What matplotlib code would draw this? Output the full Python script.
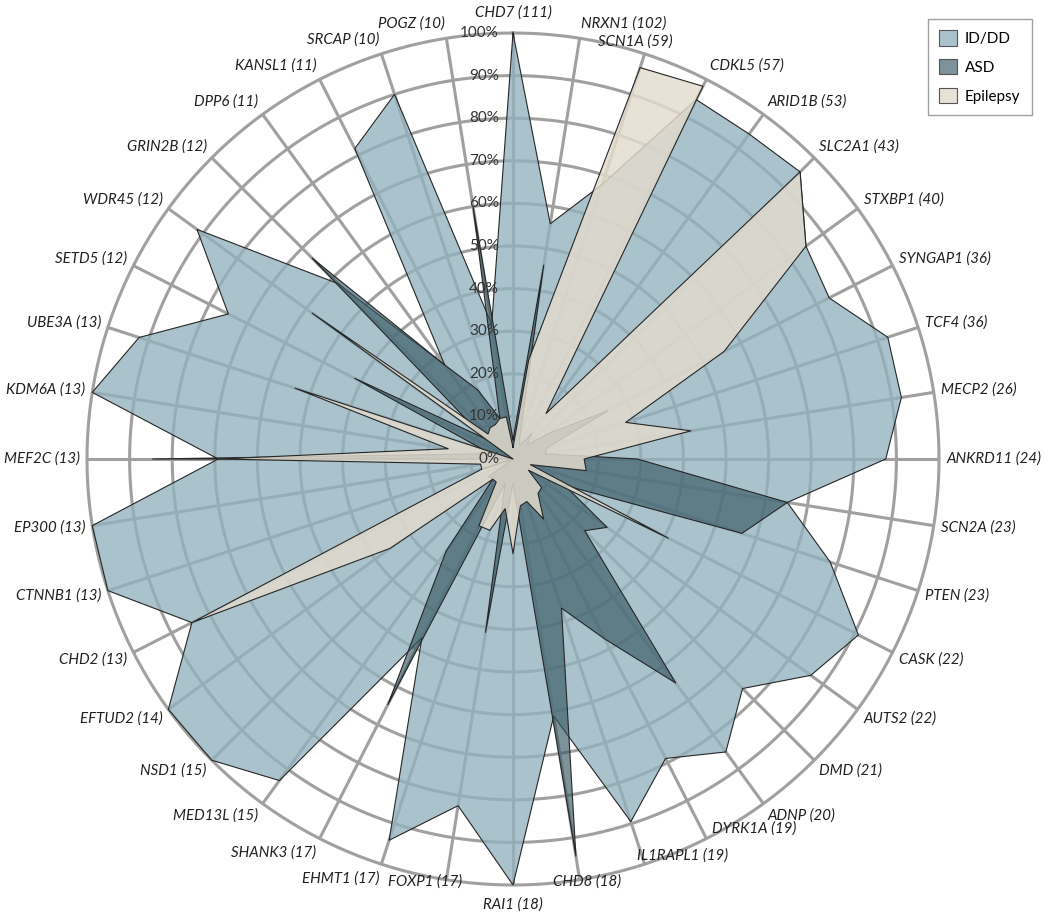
import numpy as np
import matplotlib.pyplot as plt
import matplotlib.colors as mcolors
from matplotlib.patches import Patch

# genes (clockwise from the top) and number of cases
genes = ['CHD7', 'NRXN1', 'SCN1A', 'CDKL5', 'ARID1B', 'SLC2A1', 'STXBP1', 'SYNGAP1',
         'TCF4', 'MECP2', 'ANKRD11', 'SCN2A', 'PTEN', 'CASK', 'AUTS2', 'DMD', 'ADNP',
         'DYRK1A', 'IL1RAPL1', 'CHD8', 'RAI1', 'FOXP1', 'EHMT1', 'SHANK3', 'MED13L',
         'NSD1', 'EFTUD2', 'CHD2', 'CTNNB1', 'EP300', 'MEF2C', 'KDM6A', 'UBE3A',
         'SETD5', 'WDR45', 'GRIN2B', 'DPP6', 'KANSL1', 'SRCAP', 'POGZ']
counts = [111, 102, 59, 57, 53, 43, 40, 36, 36, 26, 24, 23, 23, 22, 22, 21, 20,
          19, 19, 18, 18, 17, 17, 17, 15, 15, 14, 13, 13, 13, 13, 13, 13,
          12, 12, 12, 11, 11, 10, 10]

# percent of cases per phenotype
id_dd = [100, 55.9, 67.8, 94.7, 94.3, 95.3, 85.0, 83.3, 92.5, 92.3, 87.5, 65.2, 78.3,
         91.0, 86.4, 76.2, 85.0, 78.9, 89.5, 61.1, 100, 82.4, 94.1, 47.1, 93.3,
         100, 100, 84.6, 100, 100, 69.2, 100, 92.3, 75.0, 91.7, 58.3, 27.3, 81.8,
         90.0, 32.0]
asd = [4.5, 46.1, 5.1, 3.5, 7.5, 4.7, 10.0, 25.0, 8.3, 7.7, 29.2, 65.2, 56.5,
       13.6, 27.3, 23.8, 65.0, 47.4, 36.8, 94.4, 5.6, 41.2, 5.9, 64.7, 26.7,
       6.7, 7.1, 0, 7.7, 0, 84.6, 7.7, 7.7, 41.7, 8.3, 66.7, 27.3, 18.2, 10.0, 60.0]
epilepsy = [2.7, 23.5, 96.6, 98.2, 13.2, 95.3, 85.0, 55.6, 27.8, 42.3, 16.7, 17.4,
            4.3, 40.9, 4.5, 9.5, 10.0, 15.8, 10.5, 11.1, 22.2, 11.8, 17.6, 17.6,
            6.7, 6.7, 35.7, 84.6, 7.7, 7.7, 69.2, 15.4, 53.8, 0, 58.3, 8.3, 9.1,
            9.1, 10.0, 10.0]

plt.rcParams['font.family'] = ['Lato', 'DejaVu Sans']

fig = plt.figure(figsize=(10.5, 9.22), dpi=100)
ax = fig.add_axes([0.08286, 0.04013, 0.81143, 0.92408], projection='polar')
ax.set_theta_zero_location('N')
ax.set_theta_direction(-1)
ax.set_ylim(0, 1)
ax.set_xticks([])
ax.set_yticks([])
ax.grid(False)
ax.spines['polar'].set_visible(False)
ax.patch.set_visible(False)

n = len(genes)
theta = np.arange(n) * 2 * np.pi / n

# grid: spokes and rings
grid_c = '#a0a0a0'
for t in theta:
    ax.plot([t, t], [0, 1], color=grid_c, lw=2.2, zorder=1,
            solid_capstyle='butt', clip_on=False)
ring_t = np.linspace(0, 2 * np.pi, 721)
for r in np.arange(1, 11) / 10:
    ax.plot(ring_t, np.full_like(ring_t, r), color=grid_c, lw=2.2, zorder=1,
            clip_on=False)

series = [('ID/DD', id_dd, '#91b1be', 0.78),
          ('ASD', asd, '#375863', 0.65),
          ('Epilepsy', epilepsy, '#e3dcce', 0.83)]

handles = []
for i, (name, vals, col, a) in enumerate(series):
    v = np.array(vals) / 100
    tt = np.append(theta, theta[0])
    vv = np.append(v, v[0])
    ax.fill(tt, vv, color=col, alpha=a, lw=0, zorder=2 + i)
    ax.plot(tt, vv, color='#262626', lw=0.8, zorder=2 + i, clip_on=False)
    rgb = np.array(mcolors.to_rgb(col))
    shown = a * rgb + (1 - a)
    handles.append(Patch(facecolor=shown, edgecolor='#555555', lw=0.8, label=name))

# gene labels round the outside
nudge = {'SCN1A': (-49, -2), 'DYRK1A': (2, 24), 'IL1RAPL1': (-10, 23),
         'CHD8': (-28, 13), 'FOXP1': (17, 13)}
for g, c, t in zip(genes, counts, theta):
    s, co = np.sin(t), np.cos(t)
    r_lab = 1.017
    lift = 8 * co
    if s > 0.05:
        ha, va = 'left', 'center'
    elif s < -0.05:
        ha, va = 'right', 'center'
    else:
        ha, va = 'center', ('bottom' if co > 0 else 'top')
        r_lab, lift = 1.03, 0
    dx, dy = nudge.get(g, (0, 0))
    ax.annotate(f'{g} ({c})', xy=(t, r_lab), xytext=(dx, dy + lift),
                textcoords='offset pixels', ha=ha, va=va, style='italic',
                fontsize=10.8, color='#231f20', annotation_clip=False)

# percent ticks along the top spoke
for k in range(11):
    ax.annotate(f'{k * 10}%', xy=(0, k / 10), xytext=(-14, 0),
                textcoords='offset pixels', ha='right', va='center',
                fontsize=11, color='#333333', zorder=10, annotation_clip=False)

leg = fig.legend(handles=handles, loc='upper right',
                 bbox_to_anchor=(1032 / 1050, 1 - 19 / 922),
                 frameon=True, fancybox=False, edgecolor='#888888',
                 fontsize=11, handlelength=1.15, handleheight=1.15,
                 borderpad=0.75, labelspacing=0.85, handletextpad=0.55,
                 borderaxespad=0)
leg.get_frame().set_linewidth(1.0)

fig.savefig('out.png', dpi=100)
